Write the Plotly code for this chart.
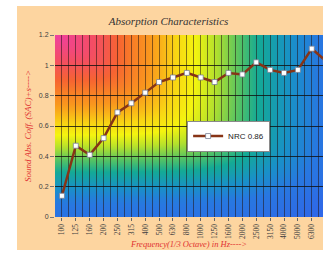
import base64
import struct
import zlib

import numpy as np
import plotly.graph_objects as go

# ---------------- data ----------------
frequencies = ["100", "125", "160", "200", "250", "315", "400", "500", "630", "800",
               "1000", "1250", "1600", "2000", "2500", "3150", "4000", "5000", "6300", "8000"]
sac_values = [0.14, 0.47, 0.41, 0.52, 0.69, 0.75, 0.82, 0.89, 0.92, 0.95,
              0.92, 0.89, 0.95, 0.94, 1.02, 0.97, 0.95, 0.97, 1.11, 1.03]
series_name = "NRC 0.86"
y_ticks = [0, 0.2, 0.4, 0.6, 0.8, 1.0, 1.2]
y_ticktext = ["0", "0.2", "0.4", "0.6", "0.8", "1", "1.2"]

chart_title = "Absorption Characteristics"
x_title = "Frequency(1/3 Octave) in Hz---->"
y_title = "Sound Abs. Coff. (SAC)+s---->"

# ---------------- background gradient image ----------------
W, H = 268, 182
stops = [0.00, 0.10, 0.18, 0.27, 0.35, 0.41, 0.48, 0.56, 0.64, 0.75, 0.85, 1.00]
cols = np.array([
    [240, 64, 160], [244, 78, 100], [247, 100, 50], [250, 150, 30],
    [249, 215, 20], [245, 245, 15], [180, 225, 45], [85, 195, 100],
    [20, 170, 150], [25, 145, 200], [40, 120, 225], [48, 104, 232]], dtype=float)

u = np.linspace(0, 1, W)
v = np.linspace(0, 1, H)
hs = np.interp(u, [0, 0.17, 0.28, 0.39, 0.49, 0.60, 0.69, 0.76, 0.88, 1.0],
               [0, 0.12, 0.22, 0.30, 0.38, 0.48, 0.56, 0.64, 0.75, 0.86])
vs = np.interp(v, [0, 0.165, 0.33, 0.41, 0.49, 0.60, 0.69, 0.82, 0.90, 1.0],
               [0, 0.12, 0.24, 0.29, 0.35, 0.46, 0.56, 0.72, 0.82, 0.90])
HS, VS = np.meshgrid(hs, vs)
p = 5.0
S = np.clip((HS ** p + VS ** p) ** (1 / p), 0, 1)
img = np.zeros((H, W, 3), dtype=np.uint8)
for c in range(3):
    img[:, :, c] = np.interp(S, stops, cols[:, c]).astype(np.uint8)


def to_png(arr):
    h, w, _ = arr.shape
    raw = b"".join(b"\x00" + arr[r].tobytes() for r in range(h))

    def chunk(t, d):
        return struct.pack(">I", len(d)) + t + d + struct.pack(">I", zlib.crc32(t + d) & 0xFFFFFFFF)

    return (b"\x89PNG\r\n\x1a\n" + chunk(b"IHDR", struct.pack(">IIBBBBB", w, h, 8, 2, 0, 0, 0))
            + chunk(b"IDAT", zlib.compress(raw, 9)) + chunk(b"IEND", b""))


img_uri = "data:image/png;base64," + base64.b64encode(to_png(img)).decode()

# ---------------- figure ----------------
xs = list(range(len(frequencies)))
fig = go.Figure()
fig.add_trace(go.Scatter(
    x=xs, y=sac_values, name=series_name, mode="lines+markers",
    line=dict(color="rgb(135,52,22)", width=2.5),
    marker=dict(symbol="square", size=5, color="white",
                line=dict(color="rgb(120,130,150)", width=0.8)),
    cliponaxis=True,
))

peach = "rgb(253,213,160)"
fig.update_layout(
    width=323, height=254,
    margin=dict(l=55, r=0, t=35, b=37),
    paper_bgcolor=peach,
    plot_bgcolor="rgb(48,104,232)",
    showlegend=True,
    title=dict(text=chart_title, x=0.522, xanchor="center", y=0.918, yanchor="middle",
               font=dict(family="Liberation Serif", size=11, style="italic", color="#333333")),
    legend=dict(x=0.493, y=0.53, xanchor="left", yanchor="top", orientation="h",
                bgcolor="white", bordercolor="#8a8a8a", borderwidth=1,
                font=dict(family="Liberation Sans", size=8, color="#222222"),
                itemwidth=30, tracegroupgap=0),
    images=[dict(source=img_uri, xref="paper", yref="paper", x=0, y=1,
                 sizex=1, sizey=1, sizing="stretch", xanchor="left", yanchor="top",
                 layer="below")],
    shapes=[
        dict(type="rect", xref="paper", yref="paper", x0=-0.3, x1=(17 - 55) / 268,
             y0=-0.3, y1=1.3, fillcolor="white", line=dict(width=0), layer="below"),
        dict(type="rect", xref="paper", yref="paper", x0=-0.3, x1=1.1,
             y0=(217 - 6) / 182, y1=1.3, fillcolor="white", line=dict(width=0), layer="below"),
        dict(type="rect", xref="paper", yref="paper", x0=-0.3, x1=1.1,
             y0=-0.3, y1=(217 - 250) / 182, fillcolor="white", line=dict(width=0), layer="below"),
    ],
)

fig.update_xaxes(
    type="linear", range=[-0.5, 18.81],
    tickmode="array", tickvals=xs, ticktext=frequencies, tickangle=-90,
    tickfont=dict(family="Liberation Serif", size=7.5, color="#404040"),
    ticks="outside", ticklen=3, tickcolor="#666666",
    showgrid=True, gridcolor="rgba(35,20,20,0.55)", gridwidth=1,
    minor=dict(tickmode="linear", tick0=-0.5, dtick=1, showgrid=True,
               gridcolor="rgba(35,20,20,0.55)", gridwidth=1, ticks=""),
    zeroline=False, showline=False, automargin=False,
    title=dict(text=x_title, standoff=3,
               font=dict(family="Liberation Serif", size=8.5, style="italic", color="#e03030")),
)
fig.update_yaxes(
    range=[0, 1.2], tickmode="array", tickvals=y_ticks, ticktext=y_ticktext,
    tickfont=dict(family="Liberation Sans", size=7, color="#404040"),
    ticks="outside", ticklen=4, tickcolor="#777777",
    showgrid=True, gridcolor="rgba(15,15,15,0.8)", gridwidth=1,
    zeroline=False, showline=False, automargin=False,
    title=dict(text=y_title, standoff=5,
               font=dict(family="Liberation Serif", size=9, style="italic", color="#e03030")),
)

fig.write_html("out.html", config={"displayModeBar": False},
               post_script="document.body.style.margin='0';")
